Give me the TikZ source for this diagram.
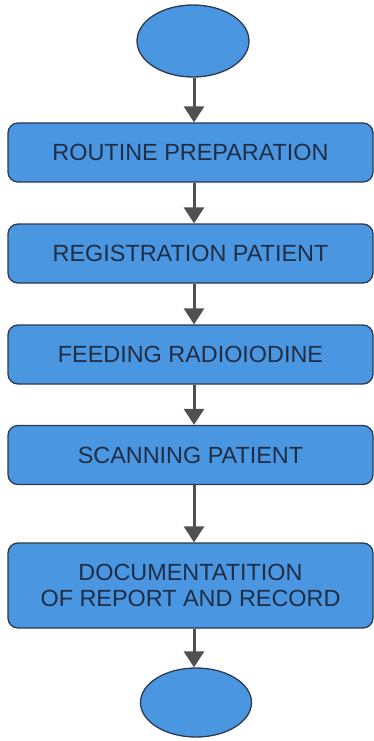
\documentclass[tikz,border=0pt]{standalone}
\usepackage{fontspec}
\setmainfont{Liberation Sans}
\usetikzlibrary{shapes.geometric,arrows.meta,calc}
\definecolor{boxfill}{HTML}{4B96E1}
\definecolor{boxline}{HTML}{2A3A50}
\definecolor{boxtext}{HTML}{1F2D45}
\definecolor{arrowcol}{HTML}{505050}
\tikzset{
  stepbox/.style={draw=boxline, line width=1.3pt, fill=boxfill, rounded corners=10pt,
    minimum width=365pt, minimum height=59pt, inner sep=0pt, text=boxtext,
    font=\fontsize{23.4}{26}\selectfont, align=center},
  endcap/.style={draw=boxline, line width=1.3pt, fill=boxfill, ellipse,
    minimum width=112pt, minimum height=72pt, inner sep=0pt},
  flowarrow/.style={draw=arrowcol, line width=3pt, -{Triangle[width=20pt,length=16pt]}, arrowcol}
}
\begin{document}
\begin{tikzpicture}[x=1pt,y=-1pt]
\path[use as bounding box] (0,0) rectangle (374,741);
\node[endcap] (e1) at (193,41) {};
\node[stepbox] (b1) at (190.5,152.5) {ROUTINE PREPARATION};
\node[stepbox] (b2) at (190.5,253.5) {REGISTRATION PATIENT};
\node[stepbox] (b3) at (190.5,354.5) {FEEDING RADIOIODINE};
\node[stepbox] (b4) at (190.5,455) {SCANNING PATIENT};
\node[stepbox, minimum height=85pt] (b5) at (190.5,585.5) {DOCUMENTATITION\\OF REPORT AND RECORD};
\node[endcap, minimum width=111pt, minimum height=69pt] (e2) at (196,702.5) {};
\coordinate (col) at (194,0);
\draw[flowarrow] (e1.south -| col) -- (b1.north -| col);
\draw[flowarrow] (b1.south -| col) -- (b2.north -| col);
\draw[flowarrow] (b2.south -| col) -- (b3.north -| col);
\draw[flowarrow] (b3.south -| col) -- (b4.north -| col);
\draw[flowarrow] (b4.south -| col) -- (b5.north -| col);
\draw[flowarrow] (b5.south -| col) -- (e2.north -| col);
\end{tikzpicture}
\end{document}
